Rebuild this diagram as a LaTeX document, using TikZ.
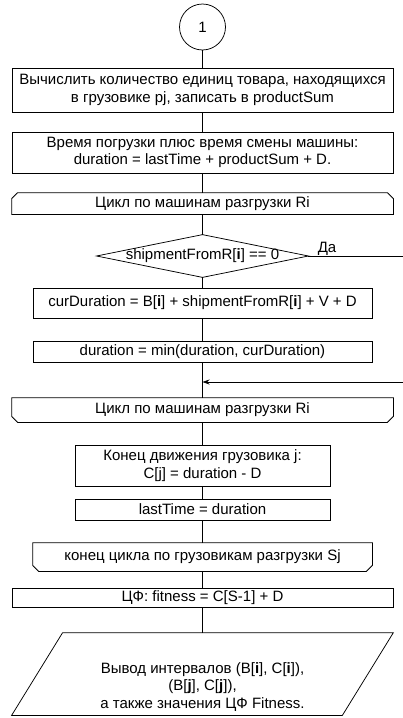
\documentclass[tikz,border=0pt]{standalone}
\usepackage{fontspec}
\setmainfont{Liberation Sans}
\usetikzlibrary{arrows.meta}
\begin{document}
\begin{tikzpicture}[x=1pt,y=-1pt, line width=0.75pt,
  every node/.style={font=\fontsize{15}{17.5}\selectfont, align=center, inner sep=0pt},
  box/.style={draw, rectangle},
  ghost/.style={rectangle, draw=none},
  arr/.style={-{Stealth[length=7pt,width=5pt]}}]
\useasboundingbox (0,0) rectangle (403,718);
\node[circle,draw,minimum size=46] (c) at (202.5,27) {1};
\node[box, minimum width=381, minimum height=44] (b1) at (202.5,90) {Вычислить количество единиц товара, находящихся\\в грузовике pj, записать в productSum};
\node[box, minimum width=381, minimum height=41] (b2) at (202.5,152.5) {Время погрузки плюс время смены машины:\\duration = lastTime + productSum + D.};
\node[ghost, minimum width=381, minimum height=21] (ls) at (202.5,203.5) {Цикл по машинам разгрузки Ri};
\draw ([yshift=-6pt]ls.north west) -- ([xshift=6pt]ls.north west) -- ([xshift=-6pt]ls.north east) -- ([yshift=-6pt]ls.north east) -- (ls.south east) -- (ls.south west) -- cycle;
\node[ghost, minimum width=211, minimum height=42] (d) at (202.5,256) {shipmentFromR[\textbf{i}] == 0};
\draw (d.north) -- (d.east) -- (d.south) -- (d.west) -- cycle;
\node[anchor=base] (da) at (327,252) {Да};
\coordinate (r1) at (403,256);
\node[box, minimum width=339, minimum height=30] (cur) at (202.5,303) {curDuration = B[\textbf{i}] + shipmentFromR[\textbf{i}] + V + D};
\node[box, minimum width=339, minimum height=21] (dm) at (202.5,351.5) {duration = min(duration, curDuration)};
\coordinate (j) at (202.5,382);
\coordinate (r2) at (403,382);
\node[ghost, minimum width=381, minimum height=24] (le) at (202.5,410) {Цикл по машинам разгрузки Ri};
\draw (le.north west) -- (le.north east) -- ([yshift=6pt]le.south east) -- ([xshift=-6pt]le.south east) -- ([xshift=6pt]le.south west) -- ([yshift=6pt]le.south west) -- cycle;
\node[box, minimum width=255, minimum height=41] (k) at (202.5,465.5) {Конец движения грузовика j:\\C[j] = duration - D};
\node[box, minimum width=255, minimum height=21] (lt) at (202.5,509.5) {lastTime = duration};
\node[ghost, minimum width=339, minimum height=28] (ce) at (202.5,557) {конец цикла по грузовикам разгрузки Sj};
\draw (ce.north west) -- (ce.north east) -- ([yshift=6pt]ce.south east) -- ([xshift=-6pt]ce.south east) -- ([xshift=6pt]ce.south west) -- ([yshift=6pt]ce.south west) -- cycle;
\node[box, minimum width=381, minimum height=19] (f) at (202.5,597.5) {ЦФ: fitness = C[S-1] + D};
\node[ghost, minimum width=381, minimum height=82] (io) at (202.5,674) {};
\draw ([xshift=51pt]io.north west) -- (io.north east) -- ([xshift=-51pt]io.south east) -- (io.south west) -- cycle;
\node (iot) at (202.5,687) {Вывод интервалов (B[\textbf{i}], C[\textbf{i}]),\\(B[\textbf{j}], C[\textbf{j}]),\\а также значения ЦФ Fitness.};
\draw (c) -- (b1);
\draw (b1) -- (b2);
\draw (b2) -- (ls);
\draw (ls) -- (d.north);
\draw (d.south) -- (cur);
\draw (cur) -- (dm);
\draw (dm) -- (le);
\draw (d.east) -- (r1);
\draw[arr] (r2) -- (j);
\draw (le) -- (k);
\draw (k) -- (lt);
\draw (lt) -- (ce);
\draw (ce) -- (f);
\draw (f) -- (io.north);
\end{tikzpicture}
\end{document}
